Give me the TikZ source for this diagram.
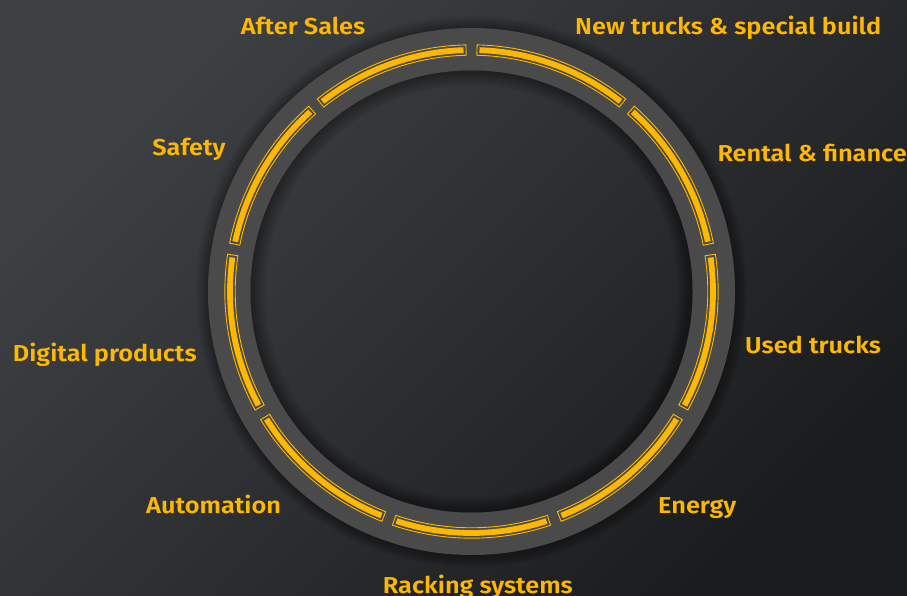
\documentclass[tikz,border=0pt]{standalone}
\usepackage{fontspec}
\setmainfont{Fira Sans SemiBold}
\definecolor{jy}{HTML}{FFB800}
\definecolor{bgA}{HTML}{3E4144}
\definecolor{bgB}{HTML}{1B1C1E}
\definecolor{ringA}{HTML}{4A4A4A}
\definecolor{ringB}{HTML}{3B3B3B}
\pgfdeclareradialshading{ringshade}{\pgfpoint{0bp}{0bp}}{color(0bp)=(ringA); color(42bp)=(ringA); color(46bp)=(ringA!70!ringB); color(50bp)=(ringB)}
\tikzset{
  lbl/.style={text=jy, font=\fontsize{23}{27}\selectfont, anchor=base west, inner sep=0pt, xscale=1.1},
  segline/.style={draw=jy, line width=0.9pt},
  segbar/.style={fill=jy},
}
\begin{document}
\begin{tikzpicture}[x=1pt,y=-1pt]
\useasboundingbox (0,0) rectangle (907,596);
\shade[top color=bgA, bottom color=bgB, shading angle=45] (0,0) rectangle (907,596);
% ring
\begin{scope}[shift={(471.5,291.5)}]
  \foreach \i in {1,...,10} {
    \draw[black, opacity=0.035, line width=\i*2.4pt] (0,0) circle[radius=263.5];
  }
  \shade[shading=ringshade, even odd rule] (0,0) circle[radius=263.5] (0,0) circle[radius=221];
  \begin{scope}
    \clip (0,0) circle[radius=221];
    \foreach \i in {1,...,10} {
      \draw[black, opacity=0.04, line width=\i*3pt] (0,0) circle[radius=221];
    }
  \end{scope}
  \foreach \k in {0,...,8} {
    \pgfmathsetmacro{\ga}{-90+40*\k}
    \pgfmathsetmacro{\oa}{\ga+1.3}
    \pgfmathsetmacro{\ob}{\ga+40-1.3}
    \pgfmathsetmacro{\ba}{\ga+1.9}
    \pgfmathsetmacro{\bb}{\ga+40-1.9}
    \draw[segline] (\oa:236.3) arc[start angle=\oa, end angle=\ob, radius=236.3] -- (\ob:246.7) arc[start angle=\ob, end angle=\oa, radius=246.7] -- cycle;
    \fill[segbar] (\ba:238.6) arc[start angle=\ba, end angle=\bb, radius=238.6] -- (\bb:244.4) arc[start angle=\bb, end angle=\ba, radius=244.4] -- cycle;
  }
\end{scope}
% labels
\node[lbl] (after) at (240.7,35) {After Sales};
\node[lbl] (newtr) at (575,35) {New trucks \& special build};
\node[lbl] (safety) at (152.2,155.3) {Safety};
\node[lbl] (rental) at (717.3,161.3) {Rental \& finance};
\node[lbl] (digital) at (12.7,361.3) {Digital products};
\node[lbl] (used) at (745,353.5) {Used trucks};
\node[lbl] (autom) at (146,513) {Automation};
\node[lbl] (energy) at (658,513) {Energy};
\node[lbl] (rack) at (382.7,593.5) {Racking systems};
\end{tikzpicture}
\end{document}
